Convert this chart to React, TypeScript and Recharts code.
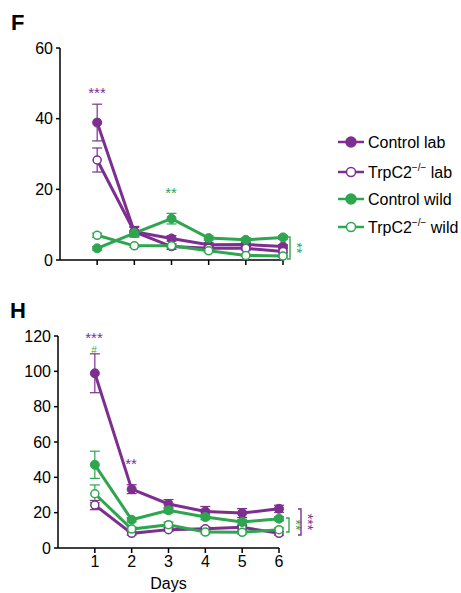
import { ErrorBar, Line, LineChart, XAxis, YAxis } from "recharts";

const purple = "#7d2f8f";
const green = "#2ea64f";
const font = "'Liberation Sans', Arial, sans-serif";

const days = [1, 2, 3, 4, 5, 6];

// panel F
const fControlLab = [38.9, 8.0, 6.1, 4.3, 4.4, 3.8];
const fControlLabErr = [5.2, 1.5, 0.8, 0.6, 0.6, 0.5];
const fTrpLab = [28.3, 8.0, 3.8, 3.3, 3.3, 2.4];
const fTrpLabErr = [3.4, 1.2, 0.8, 0.5, 0.5, 0.4];
const fControlWild = [3.3, 7.6, 11.7, 6.2, 5.7, 6.4];
const fControlWildErr = [0.5, 0.8, 1.5, 0.6, 0.6, 0.5];
const fTrpWild = [7.0, 4.0, 4.0, 2.6, 1.3, 1.1];
const fTrpWildErr = [0.6, 0.4, 0.5, 0.4, 0.3, 0.3];
const fYTicks = [0, 20, 40, 60];

// panel H
const hControlLab = [98.9, 33.3, 24.9, 20.7, 19.8, 22.2];
const hControlLabErr = [11, 2.5, 2.5, 2.8, 2.5, 2.0];
const hTrpLab = [24.3, 8.3, 10.4, 10.9, 11.7, 8.3];
const hTrpLabErr = [2.6, 1.0, 1.0, 1.0, 1.0, 1.0];
const hControlWild = [47.1, 16.0, 21.3, 17.5, 14.7, 16.6];
const hControlWildErr = [7.7, 1.2, 1.5, 1.5, 1.5, 1.2];
const hTrpWild = [30.7, 10.7, 13.2, 9.0, 8.9, 10.4];
const hTrpWildErr = [5.0, 1.2, 1.5, 1.0, 1.0, 1.0];
const hYTicks = [0, 20, 40, 60, 80, 100, 120];

const legendItems = [
  { label: "Control", suffix: " lab", sup: false, color: purple, open: false },
  { label: "TrpC2", suffix: " lab", sup: true, color: purple, open: true },
  { label: "Control", suffix: " wild", sup: false, color: green, open: false },
  { label: "TrpC2", suffix: " wild", sup: true, color: green, open: true },
];

const build = (cl: number[], clE: number[], tl: number[], tlE: number[], cw: number[], cwE: number[], tw: number[], twE: number[]) =>
  days.map((day, i) => ({
    day,
    cl: cl[i],
    clErr: clE[i],
    tl: tl[i],
    tlErr: tlE[i],
    cw: cw[i],
    cwErr: cwE[i],
    tw: tw[i],
    twErr: twE[i],
  }));

const fData = build(fControlLab, fControlLabErr, fTrpLab, fTrpLabErr, fControlWild, fControlWildErr, fTrpWild, fTrpWildErr);
const hData = build(hControlLab, hControlLabErr, hTrpLab, hTrpLabErr, hControlWild, hControlWildErr, hTrpWild, hTrpWildErr);

function seriesLines() {
  const defs = [
    { key: "cl", color: purple, open: false },
    { key: "tl", color: purple, open: true },
    { key: "cw", color: green, open: false },
    { key: "tw", color: green, open: true },
  ];
  return defs.map((d) => (
    <Line
      key={d.key}
      type="linear"
      dataKey={d.key}
      stroke={d.color}
      strokeWidth={3}
      isAnimationActive={false}
      dot={d.open ? { r: 4, fill: "#fff", stroke: d.color, strokeWidth: 1.5 } : { r: 4.5, fill: d.color, stroke: d.color, strokeWidth: 1 }}
      activeDot={false}
    >
      <ErrorBar dataKey={d.key + "Err"} direction="y" stroke={d.color} strokeWidth={1.2} width={5} isAnimationActive={false} />
    </Line>
  ));
}

const axisStyle = { stroke: "#000", strokeWidth: 1.5 };
const tickStyle = { fill: "#000", fontSize: 16, fontFamily: font };

function Bracket({ x, y1, y2, color, stars }: { x: number; y1: number; y2: number; color: string; stars: string }) {
  const mid = (y1 + y2) / 2;
  return (
    <g>
      <path d={`M${x - 3},${y1} H${x} V${y2} H${x - 3}`} fill="none" stroke={color} strokeWidth={1.4} />
      <text x={x + 2} y={mid} transform={`rotate(90 ${x + 2} ${mid})`} textAnchor="middle" fill={color} fontSize={14} fontFamily={font}>
        {stars}
      </text>
    </g>
  );
}

export default function App() {
  return (
    <div style={{ position: "absolute", left: 0, top: 0, width: 461, height: 593, background: "#fff", fontFamily: font }}>
      <div style={{ position: "absolute", left: 0, top: 30 }}>
        <LineChart width={293} height={240} data={fData} margin={{ top: 18, right: 10, left: 0, bottom: 0 }}>
          <XAxis
            dataKey="day"
            type="number"
            domain={[0, 6]}
            ticks={days}
            tickSize={5}
            tickFormatter={() => ""}
            axisLine={axisStyle}
            tickLine={axisStyle}
            height={10}
          />
          <YAxis
            domain={[0, 60]}
            ticks={fYTicks}
            width={60}
            tickSize={4}
            tickMargin={3}
            axisLine={axisStyle}
            tickLine={axisStyle}
            tick={tickStyle}
          />
          {seriesLines()}
        </LineChart>
      </div>

      <div style={{ position: "absolute", left: 0, top: 318 }}>
        <LineChart width={289} height={275} data={hData} margin={{ top: 18, right: 10, left: 0, bottom: 0 }}>
          <XAxis
            dataKey="day"
            type="number"
            domain={[0, 6]}
            ticks={days}
            tickSize={5}
            tickMargin={3}
            axisLine={axisStyle}
            tickLine={axisStyle}
            tick={tickStyle}
            height={45}
            label={{ value: "Days", position: "insideBottom", offset: 4, fill: "#000", fontSize: 16, fontFamily: font }}
          />
          <YAxis
            domain={[0, 120]}
            ticks={hYTicks}
            width={58}
            tickSize={4}
            tickMargin={3}
            axisLine={axisStyle}
            tickLine={axisStyle}
            tick={tickStyle}
          />
          {seriesLines()}
        </LineChart>
      </div>

      <svg width={461} height={593} style={{ position: "absolute", left: 0, top: 0, pointerEvents: "none" }}>
        <text x={11} y={30} fontSize={22} fontWeight="bold" fontFamily={font}>F</text>
        <text x={10} y={318} fontSize={22} fontWeight="bold" fontFamily={font}>H</text>

        {/* F annotations */}
        <text x={97} y={98} textAnchor="middle" fill={purple} fontSize={15} fontFamily={font}>***</text>
        <text x={171} y={198} textAnchor="middle" fill={green} fontSize={15} fontFamily={font}>**</text>
        <Bracket x={290} y1={237} y2={259} color={green} stars="**" />

        {/* H annotations */}
        <text x={94} y={343} textAnchor="middle" fill={purple} fontSize={15} fontFamily={font}>***</text>
        <text x={94} y={354} textAnchor="middle" fill={green} fontSize={10} fontFamily={font}>#</text>
        <text x={131} y={469} textAnchor="middle" fill={purple} fontSize={15} fontFamily={font}>**</text>
        <Bracket x={289} y1={518} y2={532} color={green} stars="**" />
        <Bracket x={301} y1={509} y2={535} color={purple} stars="***" />

        {/* legend */}
        {legendItems.map((item, i) => {
          const y = [142, 172, 199, 227][i];
          return (
            <g key={i}>
              <line x1={338} x2={364} y1={y} y2={y} stroke={item.color} strokeWidth={2.5} />
              <circle cx={351} cy={y} r={item.open ? 4.5 : 5} fill={item.open ? "#fff" : item.color} stroke={item.color} strokeWidth={1.5} />
              <text x={368} y={y + 6} fontSize={16} fontFamily={font} fill="#000">
                {item.label}
                {item.sup ? (
                  <tspan fontSize={10} dy={-7}>−/−</tspan>
                ) : null}
                <tspan dy={item.sup ? 7 : 0}>{item.suffix}</tspan>
              </text>
            </g>
          );
        })}
      </svg>
    </div>
  );
}
